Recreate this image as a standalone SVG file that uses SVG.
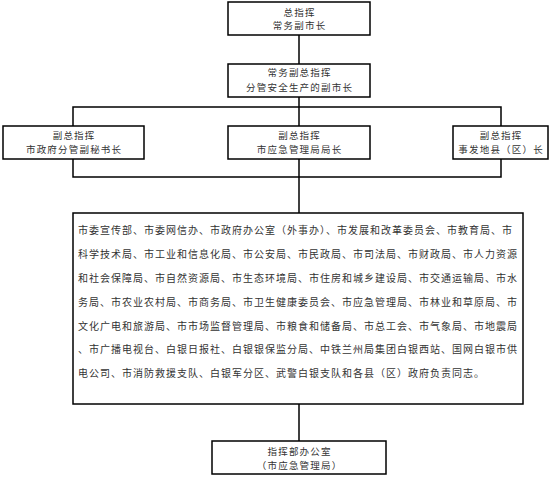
<svg xmlns="http://www.w3.org/2000/svg" width="553" height="481" viewBox="0 0 553 481">
<style>
.box{fill:#fff;stroke:#000;stroke-width:1.5}
.ln{fill:none;stroke:#000;stroke-width:1.5}
text{font-family:"Noto Sans CJK SC","Noto Sans",sans-serif;font-size:9.5px;fill:#333;dominant-baseline:central}
.c{text-anchor:middle;letter-spacing:1.2px}
.b{font-size:10px;letter-spacing:1px}
</style>
<rect width="553" height="481" fill="#fff"/>
<g id="connectors">
<path class="ln" d="M299,35V64"/>
<path class="ln" d="M299,97V126"/>
<path class="ln" d="M73,126V107H501V126"/>
<path class="ln" d="M73,159V177H501V159"/>
<path class="ln" d="M299,159V213"/>
<path class="ln" d="M299,404V441"/>
</g>
<g id="n1">
<rect class="box" x="228" y="2" width="142" height="33"/>
<text class="c" x="299.6" y="11.8">总指挥</text>
<text class="c" x="299.6" y="25.2">常务副市长</text>
</g>
<g id="n2">
<rect class="box" x="228" y="64" width="142" height="33"/>
<text class="c" x="299.6" y="71.5">常务副总指挥</text>
<text class="c" x="299.6" y="86.5">分管安全生产的副市长</text>
</g>
<g id="n3">
<rect class="box" x="3" y="126" width="141" height="33"/>
<text class="c" x="74.1" y="135">副总指挥</text>
<text class="c" x="74.1" y="149">市政府分管副秘书长</text>
</g>
<g id="n4">
<rect class="box" x="228" y="126" width="142" height="33"/>
<text class="c" x="299.6" y="135">副总指挥</text>
<text class="c" x="299.6" y="149">市应急管理局局长</text>
</g>
<g id="n5">
<rect class="box" x="453" y="126" width="95" height="33"/>
<text class="c" x="501.1" y="135">副总指挥</text>
<text class="c" x="501.1" y="149">事发地县（区）长</text>
</g>
<g id="n6">
<rect class="box" x="73" y="213" width="450" height="191"/>
<text class="b" x="78" y="229">市委宣传部、市委网信办、市政府办公室（外事办）、市发展和改革委员会、市教育局、市</text>
<text class="b" x="78" y="253">科学技术局、市工业和信息化局、市公安局、市民政局、市司法局、市财政局、市人力资源</text>
<text class="b" x="78" y="277">和社会保障局、市自然资源局、市生态环境局、市住房和城乡建设局、市交通运输局、市水</text>
<text class="b" x="78" y="301">务局、市农业农村局、市商务局、市卫生健康委员会、市应急管理局、市林业和草原局、市</text>
<text class="b" x="78" y="325">文化广电和旅游局、市市场监督管理局、市粮食和储备局、市总工会、市气象局、市地震局</text>
<text class="b" x="78" y="348">、市广播电视台、白银日报社、白银银保监分局、中铁兰州局集团白银西站、国网白银市供</text>
<text class="b" x="78" y="372">电公司、市消防救援支队、白银军分区、武警白银支队和各县（区）政府负责同志。</text>
</g>
<g id="n7">
<rect class="box" x="212" y="441" width="174" height="33"/>
<text class="c" x="299.6" y="451">指挥部办公室</text>
<text class="c" x="299.6" y="464.5">（市应急管理局）</text>
</g>
</svg>
